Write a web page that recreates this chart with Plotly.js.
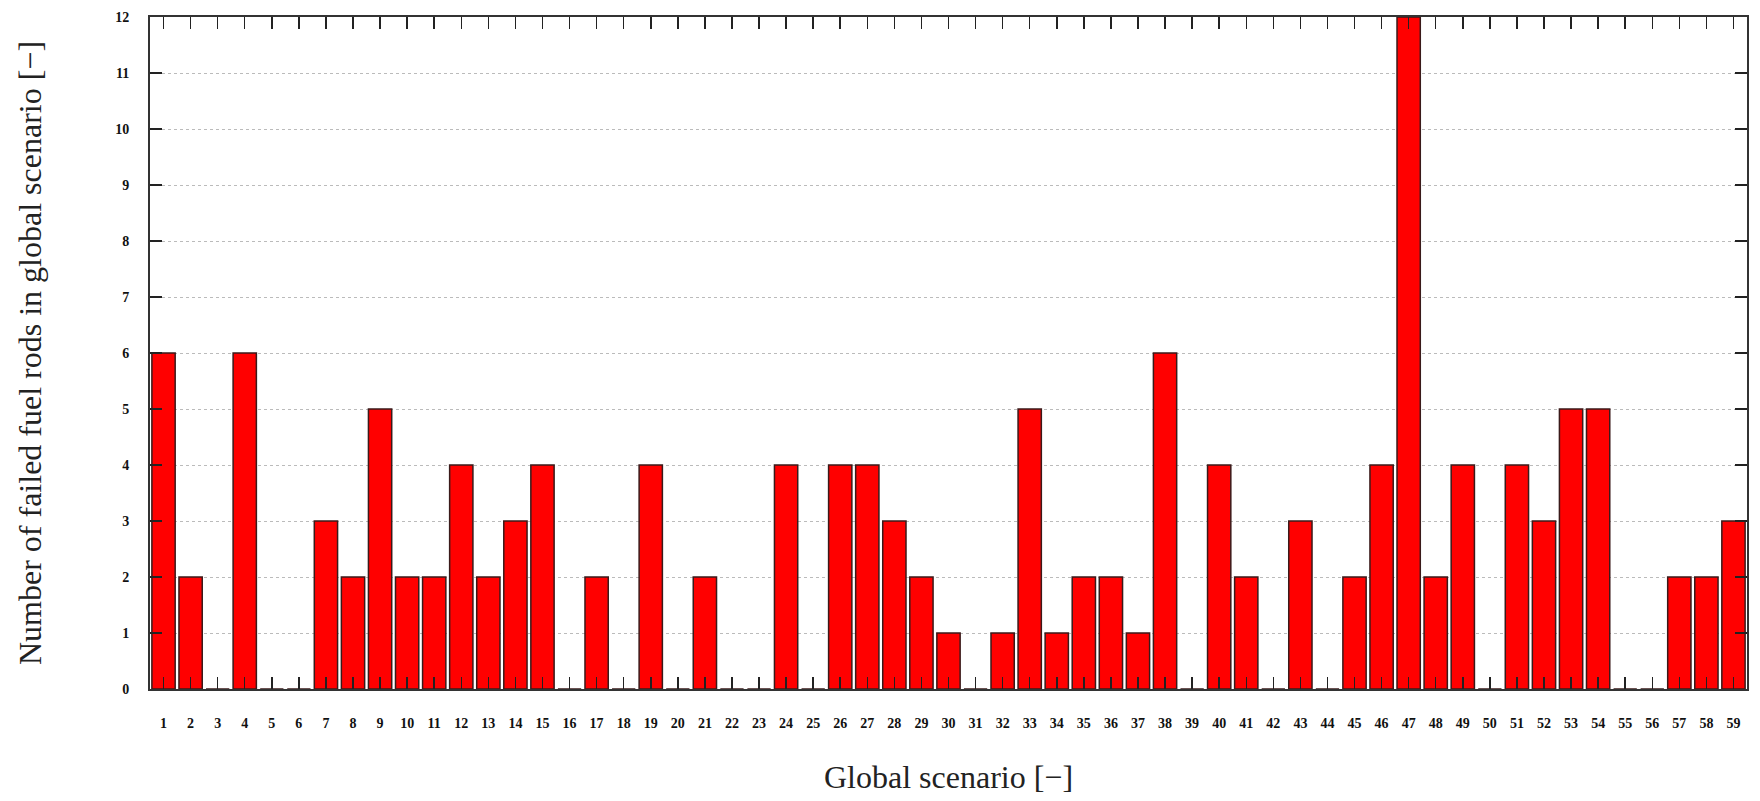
<!DOCTYPE html>
<html>
<head>
<meta charset="utf-8">
<script src="https://cdn.plot.ly/plotly-3.0.1.min.js"></script>
<style>
  html, body { margin: 0; padding: 0; background: #ffffff; }
  #chart { width: 1760px; height: 801px; }
</style>
</head>
<body>
<div id="chart"></div>
<script>
// Failed fuel rods per global scenario
const scenarios = Array.from({length: 59}, (_, i) => i + 1);
const failedRods = [
  6, 2, 0, 6, 0, 0, 3, 2, 5, 2,
  2, 4, 2, 3, 4, 0, 2, 0, 4, 0,
  2, 0, 0, 4, 0, 4, 4, 3, 2, 1,
  0, 1, 5, 1, 2, 2, 1, 6, 0, 4,
  2, 0, 3, 0, 2, 4, 12, 2, 4, 0,
  4, 3, 5, 5, 0, 0, 2, 2, 3
];
const yTicks = [0, 1, 2, 3, 4, 5, 6, 7, 8, 9, 10, 11, 12];

const serif = "'Liberation Serif', 'DejaVu Serif', serif";

const trace = {
  type: 'bar',
  x: scenarios,
  y: failedRods,
  width: 0.86,
  marker: {
    color: '#ff0000',
    line: { color: '#3a1a1a', width: 1.5 }
  },
  hoverinfo: 'x+y'
};

const layout = {
  width: 1760,
  height: 801,
  paper_bgcolor: '#ffffff',
  plot_bgcolor: '#ffffff',
  margin: { l: 150, r: 13, t: 17, b: 112 },
  showlegend: false,
  xaxis: {
    range: [0.5, 59.5],
    tickmode: 'array',
    tickvals: scenarios,
    ticktext: scenarios.map(String),
    ticks: 'inside',
    ticklen: 12,
    tickwidth: 1.5,
    tickcolor: '#222222',
    ticklabelstandoff: 20,
    showline: true,
    linecolor: '#333333',
    linewidth: 2,
    mirror: 'ticks',
    showgrid: false,
    zeroline: false,
    tickfont: { family: serif, size: 14, color: '#111111', weight: 'bold' },
    title: {
      text: 'Global scenario [\u2212]',
      font: { family: serif, size: 32, color: '#222222' },
      standoff: 36
    }
  },
  yaxis: {
    range: [0, 12],
    tickmode: 'array',
    tickvals: yTicks,
    ticktext: yTicks.map(String),
    ticks: 'inside',
    ticklen: 12,
    tickwidth: 1.5,
    tickcolor: '#222222',
    ticklabelstandoff: 16,
    showline: true,
    linecolor: '#333333',
    linewidth: 2,
    mirror: 'ticks',
    showgrid: true,
    gridcolor: '#bbbbbb',
    gridwidth: 1,
    griddash: 'dot',
    zeroline: false,
    tickfont: { family: serif, size: 14, color: '#111111', weight: 'bold' },
    title: {
      text: 'Number of failed fuel rods in global scenario [\u2212]',
      font: { family: serif, size: 32, color: '#222222' },
      standoff: 64
    }
  }
};

Plotly.newPlot('chart', [trace], layout, { displayModeBar: false, staticPlot: true });
</script>
</body>
</html>
